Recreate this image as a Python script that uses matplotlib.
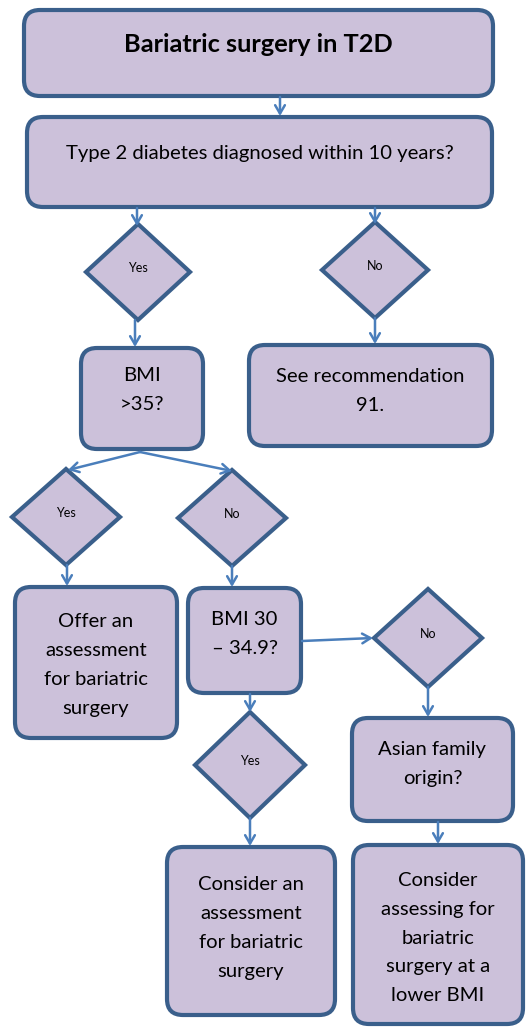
import matplotlib.pyplot as plt
from matplotlib.patches import FancyBboxPatch, Polygon

# Flowchart text
title = "Bariatric surgery in T2D"
box_texts = [
    "Type 2 diabetes diagnosed within 10 years?",
    "BMI\n>35?",
    "See recommendation\n91.",
    "Offer an\nassessment\nfor bariatric\nsurgery",
    "BMI 30\n\u2013 34.9?",
    "Asian family\norigin?",
    "Consider an\nassessment\nfor bariatric\nsurgery",
    "Consider\nassessing for\nbariatric\nsurgery at a\nlower BMI",
]
diamond_labels = ["Yes", "No", "Yes", "No", "No", "Yes"]

# Layout (pixel coordinates, y down)
title_box = (24, 10, 493, 96)
boxes = [
    (27, 117, 492, 207),
    (81, 348, 203, 449),
    (249, 345, 492, 446),
    (15, 587, 177, 738),
    (188, 588, 301, 693),
    (352, 718, 513, 821),
    (167, 847, 335, 1015),
    (353, 845, 523, 1024),
]
text_y = [153, 390, 391, 665, 634, 764, 928, 938]
diamonds = [  # cx, cy, half-width, half-height
    (138, 272, 52, 48),
    (375, 270, 53, 48),
    (66, 517, 54, 48),
    (232, 518, 54, 48),
    (428, 638, 54, 49),
    (250, 765, 55, 53),
]
arrows = [
    ((280, 97), (280, 116)),
    ((137, 208), (137, 226)),
    ((375, 208), (375, 224)),
    ((135, 320), (135, 347)),
    ((375, 318), (375, 344)),
    ((140, 452), (68, 470)),
    ((140, 452), (232, 471)),
    ((67, 565), (67, 586)),
    ((232, 566), (232, 587)),
    ((302, 641), (373, 638)),
    ((428, 687), (428, 717)),
    ((250, 694), (250, 712)),
    ((250, 818), (250, 846)),
    ((438, 822), (438, 844)),
]

fill = "#CCC1DA"
edge = "#3A5F8B"
arrow_col = "#4A7EBB"
font = ["Lato", "DejaVu Sans"]

fig = plt.figure(figsize=(5.26, 10.28), dpi=100)
ax = fig.add_axes([0, 0, 1, 1])
ax.set_xlim(0, 526)
ax.set_ylim(1028, 0)
ax.axis("off")


def rbox(x0, y0, x1, y1):
    ax.add_patch(FancyBboxPatch((x0, y0), x1 - x0, y1 - y0,
                                boxstyle="round,pad=0,rounding_size=16",
                                fc=fill, ec=edge, lw=3, zorder=2))


rbox(*title_box)
ax.text((title_box[0] + title_box[2]) / 2, 44, title, ha="center", va="center",
        fontsize=18.3, fontweight="bold", family=font, zorder=3)

for (x0, y0, x1, y1), txt, ty in zip(boxes, box_texts, text_y):
    rbox(x0, y0, x1, y1)
    ax.text((x0 + x1) / 2, ty, txt, ha="center", va="center", fontsize=14.6,
            family=font, linespacing=1.85, zorder=3)

for (cx, cy, hw, hh), lab in zip(diamonds, diamond_labels):
    ax.add_patch(Polygon([(cx, cy - hh), (cx + hw, cy), (cx, cy + hh), (cx - hw, cy)],
                         closed=True, fc=fill, ec=edge, lw=3, joinstyle="miter", zorder=2))
    ax.text(cx, cy - 4, lab, ha="center", va="center", fontsize=9,
            family=font, zorder=3)

for (x0, y0), (x1, y1) in arrows:
    ax.annotate("", xy=(x1, y1), xytext=(x0, y0),
                arrowprops=dict(arrowstyle="->,head_length=0.6,head_width=0.35",
                                color=arrow_col, lw=1.8, shrinkA=0, shrinkB=0),
                zorder=4)

fig.savefig("out.png", dpi=100, facecolor="white")
